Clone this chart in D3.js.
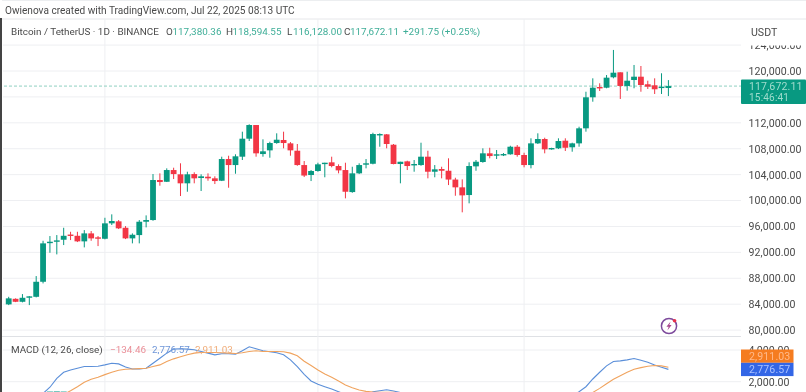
<!DOCTYPE html>
<html>
<head>
<meta charset="utf-8">
<script src="https://cdn.jsdelivr.net/npm/d3@7/dist/d3.min.js"></script>
<style>
html,body{margin:0;padding:0;background:#fff;overflow:hidden}
svg{display:block;filter:blur(0.75px)}
text{font-family:Roboto,"Liberation Sans",sans-serif}
</style>
</head>
<body>
<div id="chart"></div>
<script>
// ---------- data ----------
const opens=[83970,84830,84370,85100,85140,87460,93440,93640,93950,94750,94560,93700,94930,94320,94100,96480,96790,95800,94160,94670,96730,96990,103170,102900,104710,104050,102660,104090,103480,103680,103430,103060,106410,105480,106770,109550,111660,107180,107750,108880,109350,108830,107690,105480,103940,104560,105680,105900,105330,104710,101310,104200,105590,105680,110160,110220,108620,105640,106050,105480,105480,106770,104450,104870,104600,103240,102040,100850,105280,105950,107290,107030,106980,107140,108310,107030,105480,108830,109500,107950,108060,109240,108220,108830,111150,115940,117530,117420,119030,119800,117690,118610,119120,117950,117790,117480,117380];
const highs=[85140,84900,85560,85250,88340,93790,94520,94670,95800,95180,95180,95440,95290,94520,97340,97870,96990,96060,94930,96990,97710,104090,104200,104970,105070,105750,104450,104360,104050,104200,103740,106770,106920,107140,110630,111770,111660,109450,109080,110380,110630,109030,108730,106100,104710,105840,105840,106770,105590,105840,105220,105750,106410,110470,110380,110270,108730,105990,106150,106260,108930,107690,105480,105220,106520,103520,103270,105900,106260,108060,108150,107800,107330,108460,108570,107380,109610,110380,109700,108150,109610,109610,108930,111400,116800,118870,118100,119380,123250,119800,119890,120930,120770,118500,118870,119650,118594];
const lows=[83860,84320,84280,83860,85050,87210,91940,91690,93130,93900,93590,92770,93790,92970,94010,96220,95600,94050,93390,93390,95860,96880,102290,102860,103320,100700,101360,102660,101470,103060,102550,103010,101980,104140,106260,109190,106770,106770,106610,108770,108060,106920,105370,103630,103010,104450,103590,105130,104200,100340,101200,104090,104970,105590,108310,108060,105590,102660,104710,104450,105370,103430,103590,103430,102390,100740,98180,99570,104600,105840,106520,106410,106870,107080,106770,105130,104970,108730,107290,107850,107950,107650,107540,108310,110630,115260,116910,117330,118870,115680,116960,117330,116800,117220,116450,116450,116128];
const closes=[84900,84370,84990,85210,87460,93390,93640,93850,94560,94560,93700,94930,94160,94160,96480,96840,95710,94160,94720,96730,96990,103170,102860,104710,104090,102660,104050,103430,103740,103430,103010,106410,105480,106830,109550,111660,107290,107600,108880,109390,108880,107750,105480,103860,104560,105590,105840,105330,104660,101360,104200,105480,105750,110270,110270,108730,105640,105990,105330,105640,106770,104450,104820,104600,103240,102040,100800,105330,105990,107290,106870,107140,107180,108310,107030,105480,108830,109500,107910,108110,109190,108150,108830,111150,115940,117420,117330,118970,119740,117690,118500,119120,117840,117580,117180,117580,117672];
const priceTicks=[124000,120000,112000,108000,104000,100000,96000,92000,88000,84000,80000];
const gridPrices=[124000,120000,116000,112000,108000,104000,100000,96000,92000,88000,84000,80000];
const gridDays=[14,45,75];
const lastPrice=117672.11;
const macdIndex=[4,5,6,7,8,9,10,11,12,13,14,15,16,17,18,19,20,21,22,23,24,25,26,27,28,29,30,31,32,33,34,35,36,37,38,39,40,41,42,43,44,45,46,47,48,49,50,51,52,53,54,55,56,57,60,65,70,75,80,81,82,83,84,85,86,87,88,89,90,91,92,93,94,95,96];
const macdValues=[800,1260,1650,2214,2595,2743,2849,2955,2955,2976,3060,3166,3124,2933,2806,2806,2849,3166,3482,3801,4055,4076,4055,4013,3907,3801,3695,3759,3759,3738,3949,4203,4076,3949,3886,3822,3695,3378,2955,2468,2044,1833,1682,1535,1367,1198,1150,1100,1150,1367,1430,1494,1409,1324,1000,700,400,500,800,900,1100,1367,1683,2171,2595,2997,3270,3314,3378,3460,3357,3230,3060,2912,2777];
const signalIndex=[7,8,9,10,11,12,13,14,15,16,17,18,19,20,21,22,23,24,25,26,27,28,29,30,31,32,33,34,35,36,37,38,39,40,41,42,43,44,45,46,47,48,49,50,51,52,53,54,55,56,57,58,62,70,80,84,85,86,87,88,89,90,91,92,93,94,95,96];
const signalValues=[950,1198,1430,1682,1960,2150,2277,2446,2595,2722,2785,2806,2828,2849,2955,3060,3270,3441,3568,3695,3801,3844,3844,3844,3822,3801,3780,3822,3907,3949,3907,3907,3907,3886,3801,3632,3293,3018,2743,2489,2277,2044,1790,1619,1473,1388,1346,1324,1324,1324,1303,1280,1150,900,800,1150,1324,1579,1873,2150,2381,2595,2785,2889,2976,3018,2997,2911];
const histIndex=[6,7,8];
const histValues=[1380,1390,1380];
const macdTicks=[4000,2000];
const legendPrefix="Bitcoin / TetherUS · 1D · BINANCE";
const ohlcLabels=["O","H","L","C"];
const ohlcValues=["117,380.36","118,594.55","116,128.00","117,672.11"];

// ---------- layout ----------
const W=806,H=392,axisX=741,UP="#089981",DOWN="#F23645";
const svg=d3.select("#chart").append("svg").attr("width",W).attr("height",H);
svg.append("rect").attr("width",W).attr("height",H).attr("fill","#fff");

const x=d3.scaleLinear().domain([0,96]).range([8.7,668.4]);
const y=d3.scaleLinear().domain([80000,120000]).range([330.1,71]);
const ym=d3.scaleLinear().domain([2000,4000]).range([381.7,350]);

// frame
svg.append("rect").attr("x",0).attr("y",18).attr("width",2).attr("height",H-18).attr("fill","#444");
svg.append("line").attr("x1",2).attr("x2",W).attr("y1",19).attr("y2",19).attr("stroke","#e6e7ea");
svg.append("line").attr("x1",2).attr("x2",W).attr("y1",0.5).attr("y2",0.5).attr("stroke","#eceef0");
svg.append("line").attr("x1",2).attr("x2",axisX).attr("y1",336.5).attr("y2",336.5).attr("stroke","#dfe1e5");

// gridlines
const grid=svg.append("g").attr("stroke","#eeeff2");
grid.selectAll(".gh").data(gridPrices).join("line").attr("x1",3).attr("x2",axisX)
  .attr("y1",d=>y(d)).attr("y2",d=>y(d));
grid.selectAll(".gm").data(macdTicks).join("line").attr("x1",3).attr("x2",axisX)
  .attr("y1",d=>ym(d)).attr("y2",d=>ym(d));
grid.selectAll(".gv").data(gridDays).join("line").attr("x1",d=>x(d)).attr("x2",d=>x(d))
  .attr("y1",19).attr("y2",H);

// last price line
svg.append("line").attr("x1",4).attr("x2",axisX).attr("y1",y(lastPrice)).attr("y2",y(lastPrice))
  .attr("stroke","#8fd0c1").attr("stroke-width",1).attr("stroke-dasharray","3 2");

// candles
const idx=d3.range(closes.length);
const col=i=>closes[i]>=opens[i]?UP:DOWN;
svg.append("g").selectAll("line").data(idx).join("line")
  .attr("x1",i=>x(i)).attr("x2",i=>x(i)).attr("y1",i=>y(highs[i])).attr("y2",i=>y(lows[i]))
  .attr("stroke",col).attr("stroke-width",1);
svg.append("g").selectAll("rect").data(idx).join("rect")
  .attr("x",i=>x(i)-2.9).attr("width",5.8)
  .attr("y",i=>y(Math.max(opens[i],closes[i])))
  .attr("height",i=>Math.max(1.4,Math.abs(y(opens[i])-y(closes[i]))))
  .attr("fill",col);

// MACD
svg.append("g").selectAll("rect").data(histIndex).join("rect")
  .attr("x",d=>x(d)-3).attr("width",6)
  .attr("y",(d,i)=>ym(histValues[i])).attr("height",10).attr("fill","#26a69a");
const ln=(xs,vals)=>d3.line().x((d,i)=>x(xs[i])).y(d=>ym(d))(vals);
svg.append("path").attr("d",ln(macdIndex,macdValues)).attr("fill","none").attr("stroke","#5b8fd9").attr("stroke-width",1.1);
svg.append("path").attr("d",ln(signalIndex,signalValues)).attr("fill","none").attr("stroke","#f0a35e").attr("stroke-width",1.1);

// price axis
const axisG=svg.append("g").attr("transform",`translate(${axisX},0)`)
  .call(d3.axisRight(y).tickValues(priceTicks).tickSize(0).tickPadding(7.5).tickFormat(d3.format(",.2f")));
axisG.select(".domain").remove();
axisG.selectAll("text").attr("font-size",10.6).attr("fill","#4a4a4a").style("font-family",'Roboto,"Liberation Sans",sans-serif').attr("letter-spacing",0.05);

// USDT box masks the clipped top tick
svg.append("rect").attr("x",axisX+2).attr("y",20).attr("width",W-axisX-3).attr("height",25.5).attr("fill","#fff");
svg.append("text").attr("x",751).attr("y",36).attr("font-size",10.6).attr("fill","#4a4a4a").text("USDT");

// MACD axis
const axisM=svg.append("g").attr("transform",`translate(${axisX},0)`)
  .call(d3.axisRight(ym).tickValues(macdTicks).tickSize(0).tickPadding(7.5).tickFormat(d3.format(",.2f")));
axisM.select(".domain").remove();
axisM.selectAll("text").attr("font-size",10.6).attr("fill","#4a4a4a").style("font-family",'Roboto,"Liberation Sans",sans-serif').attr("letter-spacing",0.05);

// price tag
svg.append("rect").attr("x",axisX).attr("y",79.5).attr("width",W-axisX).attr("height",24.5).attr("rx",1).attr("fill",UP);
svg.append("text").attr("x",749).attr("y",90).attr("font-size",10.6).attr("letter-spacing",0.1).attr("fill","#9fdccd").text("117,672.11");
svg.append("text").attr("x",749).attr("y",100.5).attr("font-size",10).attr("letter-spacing",0.2).attr("fill","#9fdccd").text("15:46:41");

// MACD tags
const tags=[{v:"2,911.03",c:"#F57C20",t:"#ffb98a",y:349.5},{v:"2,776.57",c:"#3366E6",t:"#a9c0ff",y:362.8}];
tags.forEach(t=>{
  svg.append("rect").attr("x",axisX).attr("y",t.y).attr("width",52.5).attr("height",13.3).attr("fill",t.c);
  svg.append("text").attr("x",749).attr("y",t.y+10.2).attr("font-size",10.6).attr("letter-spacing",0.1).attr("fill",t.t).text(t.v);
});

// header texts
svg.append("text").attr("x",5).attr("y",13.8).attr("font-size",10.1).attr("fill","#4a4a4a").text("Owienova created with TradingView.com, Jul 22, 2025 08:13 UTC");
svg.append("text").attr("x",11).attr("y",35).attr("font-size",9.9).attr("fill","#4a4a4a").text(legendPrefix);
const lx=[166,226,287,344],vx=[172.5,232.5,293,350];
ohlcLabels.forEach((l,i)=>{
  svg.append("text").attr("x",lx[i]).attr("y",35).attr("font-size",9.9).attr("fill","#4a4a4a").text(l);
  svg.append("text").attr("x",vx[i]).attr("y",35).attr("font-size",9.9).attr("fill","#3fae98").text(ohlcValues[i]);
});
svg.append("text").attr("x",403).attr("y",35).attr("font-size",9.9).attr("fill","#3fae98").text("+291.75 (+0.25%)");

// MACD legend
svg.append("text").attr("x",11).attr("y",353).attr("font-size",9.9).attr("fill","#4a4a4a").text("MACD (12, 26, close)");
svg.append("text").attr("x",110).attr("y",353).attr("font-size",9.9).attr("fill","#ea8f98").text("−134.46");
svg.append("text").attr("x",152).attr("y",353).attr("font-size",9.9).attr("fill","#6f96d8").text("2,776.57");
svg.append("text").attr("x",195).attr("y",353).attr("font-size",9.9).attr("fill","#f0ac78").text("2,911.03");

// lightning badge
const b=svg.append("g").attr("transform","translate(669,326)");
b.append("circle").attr("r",7.6).attr("fill","#fff").attr("stroke","#7d4a9c").attr("stroke-width",1.5);
b.append("path").attr("d","M1.6,-4.4 L-2.6,0.8 L-0.3,0.8 L-1.6,4.4 L2.6,-0.9 L0.3,-0.9 Z").attr("fill","#a8488f");
b.append("circle").attr("cx",5.6).attr("cy",-5.2).attr("r",1.8).attr("fill","#e8304a");
</script>
</body>
</html>
